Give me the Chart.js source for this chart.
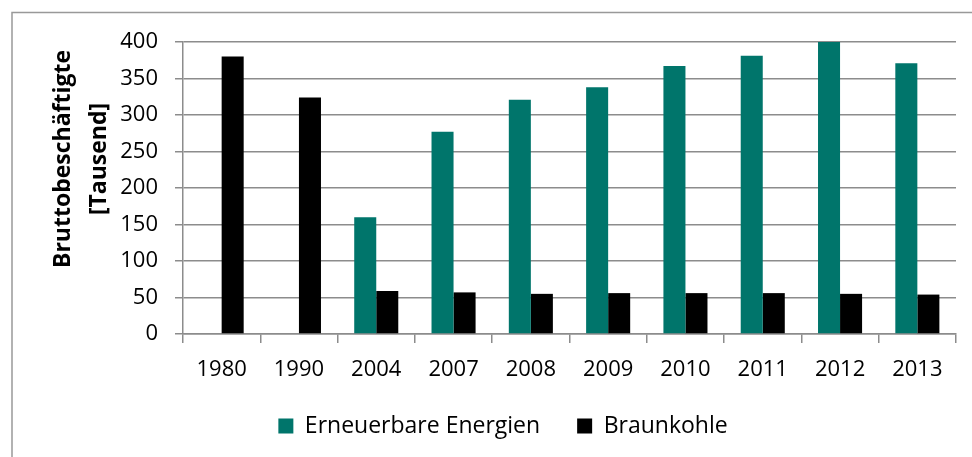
<!DOCTYPE html>
<html>
<head>
<meta charset="utf-8">
<script src="https://cdn.jsdelivr.net/npm/chart.js@4.4.0/dist/chart.umd.min.js"></script>
<style>
  html, body { margin: 0; padding: 0; background: #ffffff; }
  #wrap { position: relative; width: 972px; height: 457px; overflow: hidden; }
  canvas { display: block; }
</style>
</head>
<body>
<div id="wrap"><canvas id="c" width="972" height="457"></canvas></div>
<script>
const categories = ["1980", "1990", "2004", "2007", "2008", "2009", "2010", "2011", "2012", "2013"];
const erneuerbare = [null, null, 160, 277, 321, 338, 367, 381, 400, 371];
const braunkohle = [380, 324, 59, 57, 55, 56, 56, 56, 55, 54];
const seriesNames = ["Erneuerbare Energien", "Braunkohle"];
const yTitleLines = ["Bruttobeschäftigte", "[Tausend]"];

const FONT = "'Open Sans', sans-serif";
const TEAL = "#00756B";

const frame = {
  id: 'frame',
  beforeDraw(chart) {
    const ctx = chart.ctx;
    ctx.save();
    ctx.strokeStyle = '#999999';
    ctx.lineWidth = 1.5;
    ctx.beginPath();
    ctx.moveTo(12, chart.height + 5);
    ctx.lineTo(12, 12.5);
    ctx.lineTo(chart.width + 5, 12.5);
    ctx.stroke();
    ctx.restore();
  },
  afterDraw(chart) {
    const ctx = chart.ctx;
    ctx.save();
    ctx.fillStyle = '#000';
    ctx.font = "bold 23px " + FONT;
    ctx.textAlign = 'center';
    ctx.textBaseline = 'middle';
    const xs = [63, 99];
    yTitleLines.forEach((t, i) => {
      ctx.save();
      ctx.translate(xs[i], 159);
      ctx.rotate(-Math.PI / 2);
      ctx.fillText(t, 0, 0);
      ctx.restore();
    });
    ctx.restore();
  }
};

new Chart(document.getElementById('c'), {
  type: 'bar',
  data: {
    labels: categories,
    datasets: [
      { label: seriesNames[0], data: erneuerbare, backgroundColor: TEAL, categoryPercentage: 0.57, barPercentage: 1.0 },
      { label: seriesNames[1], data: braunkohle, backgroundColor: '#000000', categoryPercentage: 0.57, barPercentage: 1.0 }
    ]
  },
  options: {
    responsive: false,
    animation: false,
    layout: { padding: { left: 50, right: 16, top: 42, bottom: 9.5 } },
    plugins: {
      tooltip: { enabled: false },
      legend: {
        position: 'bottom',
        labels: {
          font: { family: FONT, size: 23 },
          color: '#000',
          boxWidth: 15,
          boxHeight: 15,
          padding: 37,
          generateLabels(chart) {
            return chart.data.datasets.map((d, i) => ({
              text: d.label, fillStyle: d.backgroundColor, strokeStyle: d.backgroundColor,
              lineWidth: 0, hidden: false, datasetIndex: i, fontColor: '#000'
            }));
          }
        }
      }
    },
    scales: {
      x: {
        grid: { display: true, drawOnChartArea: false, drawTicks: true, tickLength: 9, color: '#8c8c8c', lineWidth: 1.5, offset: true },
        border: { color: '#8c8c8c', width: 1.5 },
        ticks: { font: { family: FONT, size: 22 }, color: '#000', padding: 14, maxRotation: 0 },
        afterFit(scale) { scale.height = 43.5; }
      },
      y: {
        min: 0, max: 400,
        ticks: { stepSize: 50, font: { family: FONT, size: 22 }, color: '#000', padding: 17 },
        grid: { color: '#8c8c8c', lineWidth: 1.5, tickLength: 8 },
        border: { color: '#8c8c8c', width: 1.5 },
        afterFit(scale) { scale.width = 133; }
      }
    }
  },
  plugins: [frame]
});
</script>
</body>
</html>
